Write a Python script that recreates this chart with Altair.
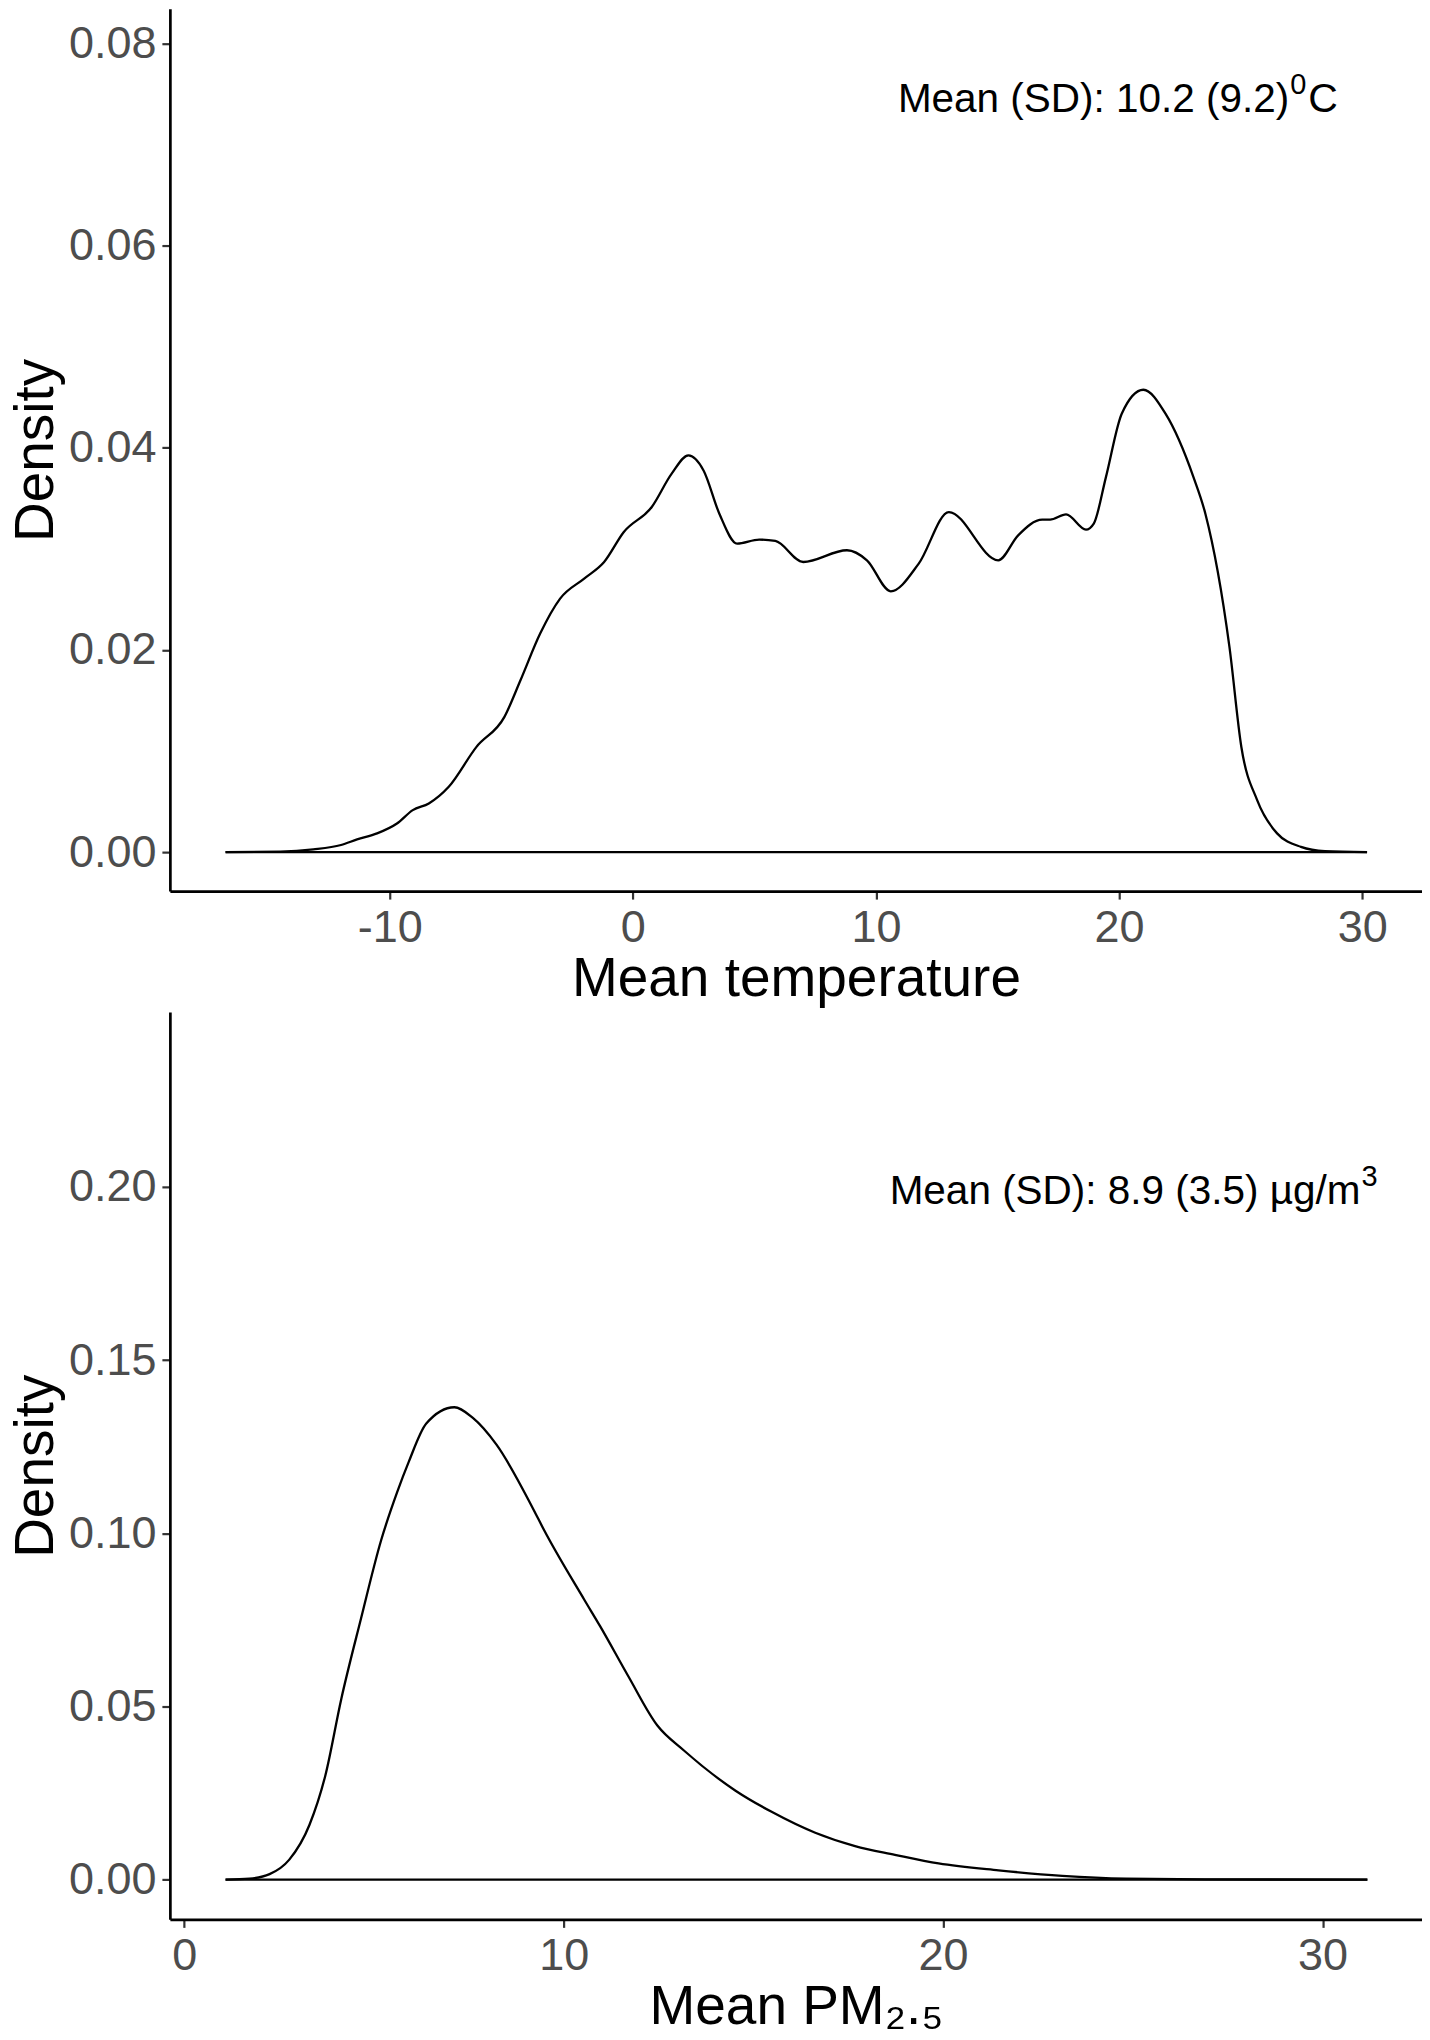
import altair as alt
import pandas as pd

# ---------------- data ----------------
temp_x = [-16.75, -14.5, -13.14, -12.0, -11.34, -10.52, -9.70, -9.05, -8.39, -7.57,
          -6.43, -5.28, -4.62, -3.81, -2.99, -2.0, -1.18, -0.37, 0.78, 1.60,
          2.29, 2.91, 3.56, 4.29, 5.20, 5.86, 7.01, 8.81, 9.63, 10.61,
          11.76, 13.0, 15.03, 15.85, 16.84, 17.16, 17.82, 18.64, 18.96, 19.46,
          20.11, 21.0, 21.91, 23.06, 23.55, 24.54, 25.03, 25.68, 26.5, 27.48,
          28.47, 30.2]
temp_d = [0.0, 0.00005, 0.00027, 0.0007, 0.00125, 0.00185, 0.00283, 0.00415, 0.00481, 0.00646,
          0.01041, 0.01338, 0.0170, 0.02162, 0.02508, 0.02706, 0.0287, 0.03167, 0.03414, 0.03744,
          0.03925, 0.03776, 0.03348, 0.03052, 0.03091, 0.03078, 0.0287, 0.02986, 0.02887, 0.0258,
          0.02854, 0.03364, 0.02887, 0.03134, 0.03289, 0.03289, 0.03341, 0.0319, 0.0325, 0.0371,
          0.04337, 0.04574, 0.04337, 0.0371, 0.03348, 0.0203, 0.0104, 0.00514, 0.00185, 0.00052,
          0.0001, 0.0]

pm_x = [1.09, 1.72, 2.25, 2.77, 3.30, 3.72, 4.14, 4.66, 5.19, 5.61,
        5.92, 6.38, 7.12, 7.60, 8.23, 9.18, 9.49, 10.54, 10.96, 11.70,
        12.47, 13.17, 14.53, 15.48, 16.63, 17.68, 18.73, 19.88, 21.46, 23.14,
        24.82, 26.9, 31.18]
pm_d = [0.0, 0.0003, 0.0016, 0.0058, 0.0158, 0.0301, 0.0522, 0.0754, 0.098, 0.1118,
        0.1207, 0.1317, 0.1364, 0.1334, 0.1256, 0.1074, 0.1008, 0.0809, 0.0732, 0.0588,
        0.0445, 0.0373, 0.0257, 0.0196, 0.01356, 0.0097, 0.0072, 0.0047, 0.0027, 0.0011,
        0.0003, 0.0001, 0.0]

temp_xticks = [-10, 0, 10, 20, 30]
temp_yticks = [0.00, 0.02, 0.04, 0.06, 0.08]
pm_xticks = [0, 10, 20, 30]
pm_yticks = [0.00, 0.05, 0.10, 0.15, 0.20]

temp_note_main = ["Mean (SD): 10.2 (9.2)"]
temp_note_sup = ["0"]
temp_note_tail = ["C"]
temp_note_x = [27.0]
temp_note_y = [0.0732]

pm_note_main = ["Mean (SD): 8.9 (3.5) \u00b5g/m"]
pm_note_sup = ["3"]
pm_note_x = [31.0]
pm_note_y = [0.1952]

FONT = "Liberation Sans"


def panel(xs, ds, xdom, ydom, xticks, yticks, xtitle, h,
          note_main, note_sup, note_x, note_y, note_tail=None):
    x_enc = alt.X("x:Q", title=xtitle,
                  scale=alt.Scale(domain=xdom, nice=False, zero=False),
                  axis=alt.Axis(values=xticks, labelExpr="'' + datum.value"))
    y_enc = alt.Y("y:Q", title="Density",
                  scale=alt.Scale(domain=ydom, nice=False, zero=False),
                  axis=alt.Axis(values=yticks, format=".2f"))
    curve_df = pd.DataFrame({"x": xs, "y": ds})
    base_df = pd.DataFrame({"x": [xs[0]], "x2": [xs[-1]], "y": [0.0]})

    curve = alt.Chart(curve_df).mark_line(
        color="black", strokeWidth=2.3, interpolate="monotone"
    ).encode(x=x_enc, y=y_enc)
    baseline = alt.Chart(base_df).mark_rule(
        color="black", strokeWidth=2.3
    ).encode(x=x_enc, x2="x2:Q", y=y_enc)

    main_df = pd.DataFrame({"x": note_x, "y": note_y, "t": note_main})
    sup_df = pd.DataFrame({"x": note_x, "y": note_y, "t": note_sup})
    main = alt.Chart(main_df).mark_text(
        align="right", baseline="alphabetic", font=FONT, fontSize=40.5, color="black"
    ).encode(x=x_enc, y=y_enc, text="t:N")
    sup = alt.Chart(sup_df).mark_text(
        align="left", baseline="alphabetic", font=FONT, fontSize=29, color="black",
        dx=1, dy=-18
    ).encode(x=x_enc, y=y_enc, text="t:N")
    layers = [baseline, curve, main, sup]
    if note_tail is not None:
        tail_df = pd.DataFrame({"x": note_x, "y": note_y, "t": note_tail})
        tail = alt.Chart(tail_df).mark_text(
            align="left", baseline="alphabetic", font=FONT, fontSize=41, color="black",
            dx=19
        ).encode(x=x_enc, y=y_enc, text="t:N")
        layers.append(tail)
    return alt.layer(*layers).properties(width=1253, height=h)


top = panel(temp_x, temp_d, [-19.04, 32.46], [-0.00386, 0.08344],
            temp_xticks, temp_yticks, "Mean temperature", 883,
            temp_note_main, temp_note_sup, temp_note_x, temp_note_y, temp_note_tail)

bottom = panel(pm_x, pm_d, [-0.377, 32.62], [-0.01145, 0.2505],
               pm_xticks, pm_yticks, "Mean PM\u2082.\u2085", 908,
               pm_note_main, pm_note_sup, pm_note_x, pm_note_y)

chart = alt.vconcat(top, bottom, spacing=6).properties(
    padding={"left": 0, "top": 0, "right": 0, "bottom": 0}
).configure_view(stroke=None).configure_axis(
    grid=False,
    domainColor="black", domainWidth=2.7,
    tickColor="#333333", tickWidth=2.2, tickSize=8,
    labelColor="#4D4D4D", labelFont=FONT, labelFontSize=45,
    titleFont=FONT, titleFontSize=55, titleFontWeight="normal", titleColor="black",
).configure_axisX(
    labelPadding=6, titlePadding=2
).configure_axisY(
    labelPadding=6, titlePadding=4
)

chart.save("out.html", embed_options={"renderer": "svg", "actions": False})
